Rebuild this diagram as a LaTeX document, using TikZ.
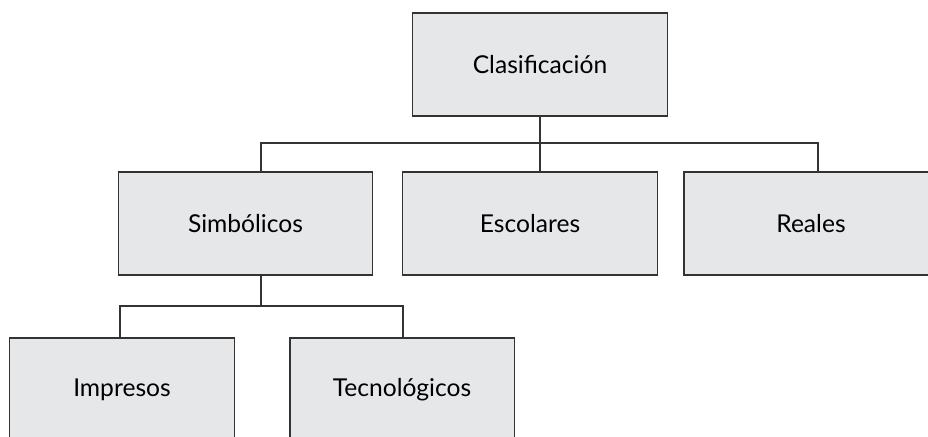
\documentclass[tikz,border=0pt]{standalone}
\usepackage{fontspec}
\setmainfont{Lato}
\definecolor{boxgray}{HTML}{E6E7E8}
\definecolor{linegray}{HTML}{333333}
\begin{document}
\begin{tikzpicture}[x=0.025cm,y=-0.025cm,line width=0.75pt,
  caja/.style={draw=linegray,fill=boxgray,minimum width=6.35cm,minimum height=2.575cm,inner sep=0pt,font=\fontsize{17.5}{20}\selectfont,text=black},
  cajab/.style={caja,minimum width=5.6cm}]
\useasboundingbox (0,0) rectangle (928,436);
\node[caja] (clas) at (540,64.5) {Clasificación};
\node[caja] (simb) at (245.5,223.5) {Simbólicos};
\node[caja] (esc) at (530,223.5) {Escolares};
\node[caja] (real) at (811,223.5) {Reales};
\node[cajab] (impr) at (122,389.5) {Impresos};
\node[cajab] (tecn) at (402,389.5) {Tecnológicos};
\path
(261,143) coordinate (jl)
(818,143) coordinate (jr)
(120,306) coordinate (kl)
(403,306) coordinate (kr);
\draw[linegray](clas.south)--(clas.south |- esc.north);
\draw[linegray](jl |- simb.north)--(jl)--(jr)--(jr |- real.north);
\draw[linegray](jl |- simb.south)--(jl |- kl);
\draw[linegray](kl |- impr.north)--(kl)--(kr)--(kr |- tecn.north);
\end{tikzpicture}
\end{document}
